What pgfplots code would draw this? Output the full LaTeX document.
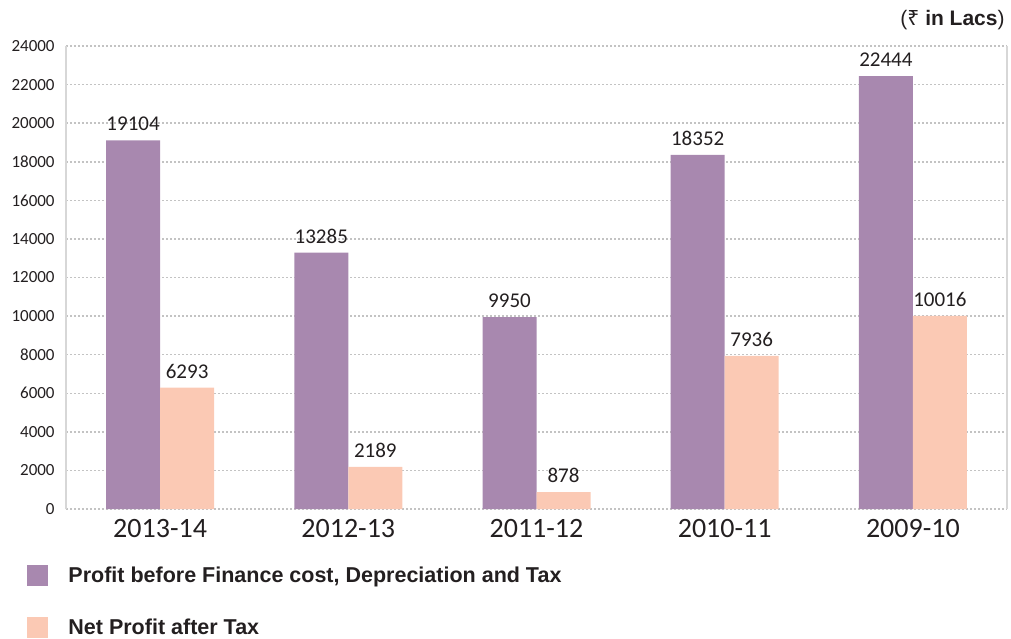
\documentclass[border=0pt]{standalone}
\usepackage{pgfplots}
\pgfplotsset{compat=1.18}
\usepackage{fontspec}
\setmainfont{Carlito}
\newfontfamily\arialb{Liberation Sans}
\newfontfamily\rupeefont{Noto Sans}
\definecolor{barpurple}{RGB}{168,136,175}
\definecolor{barpeach}{RGB}{251,201,180}
\definecolor{txt}{RGB}{35,31,32}
\definecolor{gridc}{RGB}{195,195,195}
\definecolor{boxc}{RGB}{215,215,215}
\begin{document}
\begin{tikzpicture}
\useasboundingbox (-33pt,-64.5pt) rectangle (472.5pt,254.5pt);
\begin{axis}[
  at={(0,0)}, anchor=south west,
  scale only axis, width=470.5pt, height=231.5pt,
  ybar=0pt, bar width=27pt,
  xmin=-0.5, xmax=4.5, ymin=0, ymax=24000,
  xtick={0,1,2,3,4},
  xticklabels={2013-14,2012-13,2011-12,2010-11,2009-10},
  ytick distance=2000,
  scaled y ticks=false,
  /pgf/number format/assume math mode=true,
  /pgf/number format/1000 sep={},
  major tick length=0pt,
  tick style={draw=none},
  axis line style={draw=none},
  ymajorgrids,
  grid style={draw=gridc, line width=0.75pt, dash pattern=on 1pt off 1pt},
  xticklabel style={font=\fontsize{14}{16}\selectfont, text=txt, inner sep=0pt, yshift=-5pt},
  yticklabel style={font=\fontsize{8.5}{10}\selectfont, text=txt, inner sep=0pt, xshift=-5.5pt},
  nodes near coords,
  every node near coord/.append style={font=\fontsize{10.5}{12}\selectfont, text=txt, inner sep=0pt, anchor=south, yshift=4.5pt},
  legend style={draw=none, fill=none, at={(-0.0414,-0.121)}, anchor=north west,
    font=\arialb\bfseries\fontsize{10.75}{13}\selectfont, text=txt,
    column sep=10pt, row sep=15.5pt, inner sep=0pt, nodes={inner sep=0pt, anchor=west}},
  legend cell align=left,
  legend image code/.code={\fill[#1] (0pt,-5.25pt) rectangle (10.5pt,5.25pt);},
  clip=false,
]
\addplot[fill=barpurple, draw=none] coordinates {(0,19104) (1,13285) (2,9950) (3,18352) (4,22444)};
\addplot[fill=barpeach, draw=none] coordinates {(0,6293) (1,2189) (2,878) (3,7936) (4,10016)};
\legend{{Profit before Finance cost, Depreciation and Tax}, {Net Profit after Tax}}
\draw[boxc, line width=0.75pt] (rel axis cs:0,0) -- (rel axis cs:0,1);
\draw[boxc, line width=0.75pt] (rel axis cs:1,0) -- (rel axis cs:1,1);
\node[anchor=east, inner sep=0pt, text=txt, font=\arialb\fontsize{10.5}{12}\selectfont, xshift=-1pt, yshift=13pt] at (rel axis cs:1,1) {({\rupeefont ₹} \textbf{in Lacs})};
\end{axis}
\end{tikzpicture}
\end{document}
